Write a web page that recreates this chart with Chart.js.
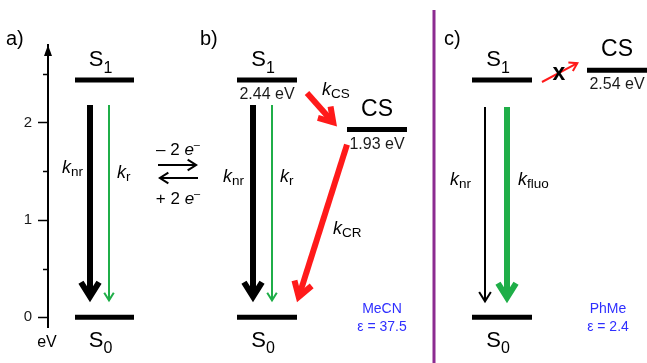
<!DOCTYPE html>
<html>
<head>
<meta charset="utf-8">
<script src="https://cdn.jsdelivr.net/npm/chart.js@4/dist/chart.umd.min.js"></script>
<style>
  html, body { margin: 0; padding: 0; background: #fff; }
  #wrap { width: 647px; height: 363px; position: relative; }
</style>
</head>
<body>
<div id="wrap"><canvas id="diagram"></canvas></div>
<script>
// ---- Energy levels (eV) ----
const stateNames    = ['S0', 'S1', 'S0', 'S1', 'CS', 'S0', 'S1', 'CS'];
const stateEnergies = [0, 2.44, 0, 2.44, 1.93, 0, 2.44, 2.54];
const statePanels   = ['a', 'a', 'b', 'b', 'b', 'c', 'c', 'c'];
const showEnergy    = [false, false, false, true, true, false, false, true];

// ---- Energy axis ticks (eV) ----
const majorTicks = [0, 1, 2];
const minorTicks = [0.5, 1.5, 2.5];

// ---- Transitions between states (indices into the state arrays) ----
const transFrom = [1, 1, 3, 3, 3, 4, 6, 6, 6];
const transTo   = [0, 0, 2, 2, 4, 2, 5, 5, 7];
const transRate = ['nr', 'r', 'nr', 'r', 'CS', 'CR', 'nr', 'fluo', null];

// ---- Solvents ----
const solventNames = ['MeCN', 'PhMe'];
const solventEps   = ['37.5', '2.4'];

// ---- Layout and styling ----
const FF = '"Liberation Sans", Arial, Helvetica, sans-serif';
const BLACK = '#000000', GREEN = '#1fae48', RED = '#ff1a1a', BLUE = '#2f2fff', PURPLE = '#8c2b90';

// horizontal extent of each level, in diagram x units
const levelSpan = [[75, 134], [75, 134], [237, 297], [237, 297], [347, 407], [472, 532], [472, 532], [587, 647]];

// arrow geometry: x start/end, pixel offsets from the levels, stroke and head size, label anchor
const arrowStyle = [
  { x0: 90,  x1: 90,  d0: 25, d1: -15, w: 6, c: BLACK, head: 17, lx: 62,  ly: 173 },
  { x0: 109, x1: 109, d0: 25, d1: -15, w: 2, c: GREEN, head: 9,  lx: 117, ly: 178 },
  { x0: 253, x1: 253, d0: 25, d1: -15, w: 6, c: BLACK, head: 17, lx: 223, ly: 182 },
  { x0: 272, x1: 272, d0: 25, d1: -15, w: 2, c: GREEN, head: 9,  lx: 280, ly: 182 },
  { x0: 307, x1: 337, d0: 13, d1: -3,  w: 6, c: RED,   head: 16, lx: 322, ly: 95 },
  { x0: 347, x1: 297, d0: 15, d1: -15, w: 6, c: RED,   head: 17, lx: 333, ly: 234 },
  { x0: 485, x1: 485, d0: 27, d1: -14, w: 2, c: BLACK, head: 11, lx: 450, ly: 185 },
  { x0: 507, x1: 507, d0: 27, d1: -14, w: 6, c: GREEN, head: 17, lx: 518, ly: 185 },
  { x0: 542, x1: 579, d0: 2,  d1: -8,  w: 2, c: RED,   head: 9,  lx: null, ly: null }
];

// draw a run of text pieces (font / vertical shift per piece)
function drawRich(ctx, x, y, parts, align, color) {
  ctx.save();
  ctx.fillStyle = color || BLACK;
  ctx.textBaseline = 'alphabetic';
  ctx.textAlign = 'left';
  let total = 0;
  parts.forEach(p => { ctx.font = p.f; p.wd = ctx.measureText(p.t).width; total += p.wd; });
  let cx = align === 'center' ? x - total / 2 : (align === 'right' ? x - total : x);
  parts.forEach(p => { ctx.font = p.f; ctx.fillText(p.t, cx, y + (p.dy || 0)); cx += p.wd; });
  ctx.restore();
}

// straight arrow with an open chevron head whose mitred tip lands on (x1, y1)
function drawArrow(ctx, x0, y0, x1, y1, w, color, head) {
  const ang = 0.56;
  const dx = x1 - x0, dy = y1 - y0, L = Math.hypot(dx, dy);
  const ux = dx / L, uy = dy / L;
  const miter = (w / 2) / Math.sin(ang);
  const vx = x1 - ux * miter, vy = y1 - uy * miter;
  ctx.save();
  ctx.strokeStyle = color;
  ctx.lineWidth = w;
  ctx.lineCap = 'butt';
  ctx.lineJoin = 'miter';
  ctx.miterLimit = 10;
  ctx.beginPath(); ctx.moveTo(x0, y0); ctx.lineTo(vx, vy); ctx.stroke();
  const bx = -ux, by = -uy, c = Math.cos(ang), s = Math.sin(ang);
  ctx.beginPath();
  ctx.moveTo(vx + head * (bx * c - by * s), vy + head * (bx * s + by * c));
  ctx.lineTo(vx, vy);
  ctx.lineTo(vx + head * (bx * c + by * s), vy + head * (-bx * s + by * c));
  ctx.stroke();
  ctx.restore();
}

const subLabel = (main, sub, size, subSize, dy) => [
  { t: main, f: `${size}px ${FF}` },
  { t: sub, f: `${subSize}px ${FF}`, dy: dy }
];
const rateLabel = sub => [
  { t: 'k', f: `italic 18px ${FF}` },
  { t: sub, f: `13.5px ${FF}`, dy: 3 }
];

// annotations drawn on top of the chart, placed through the chart's scales
const diagramPlugin = {
  id: 'diagram',
  afterDraw(chart) {
    const ctx = chart.ctx;
    const xs = chart.scales.x, ys = chart.scales.y;
    const X = v => xs.getPixelForValue(v);
    const Y = v => ys.getPixelForValue(v);
    const area = chart.chartArea;

    // minor ticks and arrow tip of the energy axis
    ctx.save();
    ctx.strokeStyle = BLACK;
    ctx.lineWidth = 1.5;
    minorTicks.forEach(v => {
      const y = Math.round(Y(v)) + 0.5;
      ctx.beginPath(); ctx.moveTo(area.left - 5, y); ctx.lineTo(area.left, y); ctx.stroke();
    });
    ctx.fillStyle = BLACK;
    ctx.beginPath();
    ctx.moveTo(area.left - 0.0, area.top);
    ctx.lineTo(area.left - 4, area.top + 11);
    ctx.lineTo(area.left + 4, area.top + 11);
    ctx.closePath();
    ctx.fill();
    ctx.restore();
    drawRich(ctx, area.left - 1, 347, [{ t: 'eV', f: `16px ${FF}` }], 'center');

    // panel letters
    drawRich(ctx, 6, 45, [{ t: 'a)', f: `20px ${FF}` }], 'left');
    drawRich(ctx, 200, 45, [{ t: 'b)', f: `20px ${FF}` }], 'left');
    drawRich(ctx, 444, 45, [{ t: 'c)', f: `20px ${FF}` }], 'left');

    // separator between the solvent panels
    ctx.save();
    ctx.strokeStyle = PURPLE;
    ctx.lineWidth = 3;
    ctx.beginPath(); ctx.moveTo(X(434), 10); ctx.lineTo(X(434), 363); ctx.stroke();
    ctx.restore();

    // state labels and energies
    stateNames.forEach((name, i) => {
      const cx = (X(levelSpan[i][0]) + X(levelSpan[i][1])) / 2;
      const y = Y(stateEnergies[i]);
      if (name === 'CS') {
        drawRich(ctx, cx, y - 14, [{ t: 'CS', f: `23px ${FF}` }], 'center');
      } else if (name === 'S1') {
        drawRich(ctx, cx - 4, y - 14, subLabel('S', '1', 22, 16, 7), 'center');
      } else {
        drawRich(ctx, cx - 4, y + 30, subLabel('S', '0', 22, 16, 6), 'center');
      }
      if (showEnergy[i]) {
        drawRich(ctx, cx, y + 19, [{ t: stateEnergies[i].toFixed(2) + ' eV', f: `16px ${FF}` }], 'center', '#1a1a1a');
      }
    });

    // transition arrows and rate constants
    transFrom.forEach((from, i) => {
      const st = arrowStyle[i];
      const y0 = Y(stateEnergies[from]) + st.d0;
      const y1 = Y(stateEnergies[transTo[i]]) + st.d1;
      drawArrow(ctx, X(st.x0), y0, X(st.x1), y1, st.w, st.c, st.head);
      if (transRate[i]) drawRich(ctx, X(st.lx), st.ly, rateLabel(transRate[i]), 'left');
    });
    // forbidden charge separation in the apolar solvent
    drawRich(ctx, X(559), 80, [{ t: 'x', f: `bold 23px ${FF}` }], 'center');

    // redox equilibrium between panels a and b
    drawArrow(ctx, X(158), 165, X(198), 165, 2, BLACK, 10);
    drawArrow(ctx, X(198), 178, X(158), 178, 2, BLACK, 10);
    const eq = sign => [
      { t: sign + ' 2 ', f: `17px ${FF}` },
      { t: 'e', f: `italic 17px ${FF}` },
      { t: '\u2013', f: `11px ${FF}`, dy: -7 }
    ];
    drawRich(ctx, X(178), 155, eq('\u2013'), 'center');
    drawRich(ctx, X(178), 204, eq('+'), 'center');

    // solvent and dielectric constant
    const solventX = [382, 608];
    solventNames.forEach((s, i) => {
      drawRich(ctx, X(solventX[i]), 313, [{ t: s, f: `14px ${FF}` }], 'center', BLUE);
      drawRich(ctx, X(solventX[i]), 331, [{ t: '\u03b5 = ' + solventEps[i], f: `14px ${FF}` }], 'center', BLUE);
    });
  }
};

// one short horizontal line per state
const levelDatasets = stateNames.map((name, i) => ({
  label: statePanels[i] + ':' + name,
  data: [{ x: levelSpan[i][0], y: stateEnergies[i] }, { x: levelSpan[i][1], y: stateEnergies[i] }],
  borderColor: BLACK,
  borderWidth: 5,
  borderCapStyle: 'butt',
  pointRadius: 0,
  fill: false,
  clip: false
}));

new Chart(document.getElementById('diagram'), {
  type: 'line',
  data: { datasets: levelDatasets },
  options: {
    responsive: true,
    maintainAspectRatio: false,
    animation: false,
    devicePixelRatio: 1,
    layout: { padding: { top: 45, bottom: 36, left: 0, right: 0 } },
    plugins: { legend: { display: false }, tooltip: { enabled: false } },
    scales: {
      x: { type: 'linear', min: 48, max: 647, display: false },
      y: {
        type: 'linear',
        min: -0.1,
        max: 2.8,
        afterFit(scale) { scale.width = 48; },
        afterBuildTicks(scale) { scale.ticks = majorTicks.concat(minorTicks).sort((a, b) => a - b).map(v => ({ value: v })); },
        border: { display: true, color: BLACK, width: 2 },
        grid: {
          display: true,
          drawOnChartArea: false,
          drawTicks: true,
          tickLength: 10,
          tickWidth: 1.5,
          tickColor: ctx => majorTicks.includes(ctx.tick.value) ? BLACK : 'rgba(0,0,0,0)'
        },
        ticks: {
          autoSkip: false,
          padding: 6,
          color: '#1a1a1a',
          font: { family: FF, size: 15 },
          callback: v => majorTicks.includes(v) ? String(v) : ''
        }
      }
    }
  },
  plugins: [diagramPlugin]
});
</script>
</body>
</html>
